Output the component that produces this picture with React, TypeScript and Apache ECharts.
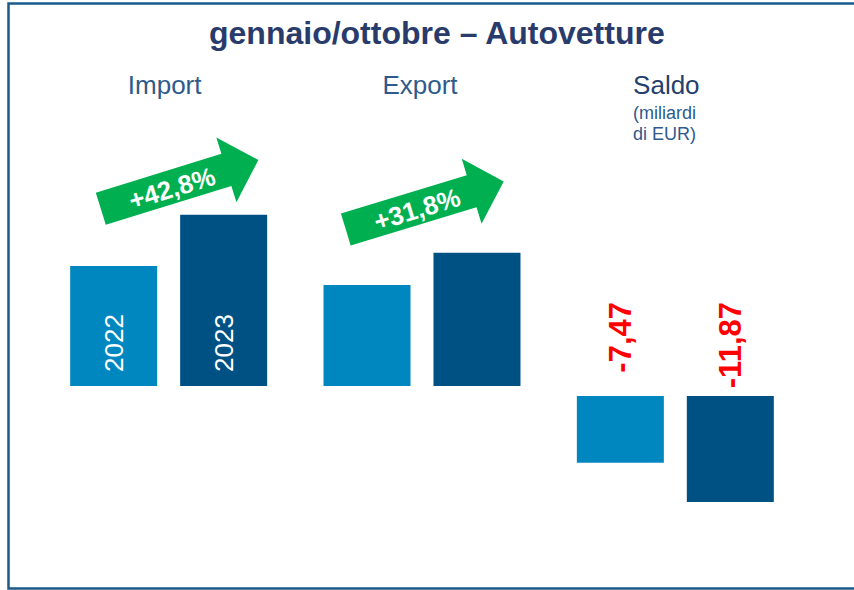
import React, { useEffect, useRef } from "react";
import * as echarts from "echarts";

// ---- data ----
const chartTitle = "gennaio/ottobre – Autovetture";
const categories = ["Import", "Export", "Saldo"];
const years = ["2022", "2023"];
// bar heights for Import / Export (same scale as Saldo)
const importExport2022 = [13.44, 11.31];
const importExport2023 = [19.19, 14.91];
// Saldo (miliardi di EUR)
const saldoValues = [-7.47, -11.87];
const growthLabels = ["+42,8%", "+31,8%"];
const unitLines = ["(miliardi", "di EUR)"];

const FONT = "'Liberation Sans', Arial, sans-serif";
const C2022 = "#0087C0";
const C2023 = "#005183";
const GREEN = "#00B050";

function arrow(x: number, y: number, deg: number, label: string) {
  const pts = [
    [0, -16.8],
    [131.5, -16.8],
    [131.5, -34],
    [165, 0],
    [131.5, 34],
    [131.5, 16.8],
    [0, 16.8],
  ];
  return {
    type: "group",
    x,
    y,
    rotation: (deg * Math.PI) / 180,
    silent: true,
    children: [
      { type: "polygon", shape: { points: pts }, style: { fill: GREEN } },
      {
        type: "text",
        x: 74,
        y: 1.5,
        style: {
          text: label,
          fill: "#ffffff",
          font: `bold 26px ${FONT}`,
          align: "center",
          verticalAlign: "middle",
          textAlign: "center",
          textVerticalAlign: "middle",
        },
      },
    ],
  };
}

export default function App() {
  const ref = useRef<HTMLDivElement>(null);

  useEffect(() => {
    if (!ref.current) return;
    const chart = echarts.init(ref.current, null, { renderer: "svg" });
    const pads = [8, 4, 18];
    const labelColors = ["#2E5A8C", "#2E5A8C", "#223F6E"];

    const yearLabel = {
      show: false,
      position: "insideBottom",
      distance: 14,
      rotate: 90,
      align: "left",
      verticalAlign: "middle",
      color: "#ffffff",
      fontSize: 26,
      fontFamily: FONT,
      formatter: "{a}",
    };
    const saldoLabel = {
      show: true,
      position: "top",
      distance: 94,
      rotate: 90,
      align: "right",
      verticalAlign: "middle",
      color: "#FF0000",
      fontSize: 31,
      fontWeight: "bold",
      fontFamily: FONT,
      formatter: (p: any) => Number(p.value).toFixed(2).replace(".", ","),
    };

    const option: any = {
      animation: false,
      backgroundColor: "#ffffff",
      title: {
        text: chartTitle,
        left: 204,
        top: 12,
        textStyle: {
          fontSize: 32,
          fontWeight: "bold",
          color: "#293B6B",
          fontFamily: FONT,
        },
      },
      grid: [
        { left: 42, width: 760, top: 207.4, height: 178.6 },
        { left: 42, width: 760, top: 396, height: 133.95 },
      ],
      xAxis: [
        {
          type: "category",
          gridIndex: 0,
          position: "top",
          data: categories.map((c, i) => ({
            value: c,
            textStyle: { padding: [0, pads[i], 0, 0], color: labelColors[i] },
          })),
          axisLine: { show: false },
          axisTick: { show: false },
          splitLine: { show: false },
          axisLabel: {
            show: true,
            interval: 0,
            margin: 109,
            fontSize: 26,
            fontFamily: FONT,
          },
        },
        {
          type: "category",
          gridIndex: 1,
          data: categories,
          show: false,
        },
      ],
      yAxis: [
        { type: "value", gridIndex: 0, min: 0, max: 20, show: false },
        { type: "value", gridIndex: 1, min: -15, max: 0, show: false },
      ],
      series: [
        {
          name: years[0],
          type: "bar",
          xAxisIndex: 0,
          yAxisIndex: 0,
          barWidth: 87,
          barGap: "26.4%",
          itemStyle: { color: C2022 },
          label: yearLabel,
          data: [
            { value: importExport2022[0], label: { show: true } },
            importExport2022[1],
            "-",
          ],
        },
        {
          name: years[1],
          type: "bar",
          xAxisIndex: 0,
          yAxisIndex: 0,
          barWidth: 87,
          barGap: "26.4%",
          itemStyle: { color: C2023 },
          label: yearLabel,
          data: [
            { value: importExport2023[0], label: { show: true } },
            importExport2023[1],
            "-",
          ],
        },
        {
          name: "Saldo " + years[0],
          type: "bar",
          xAxisIndex: 1,
          yAxisIndex: 1,
          barWidth: 87,
          barGap: "26.4%",
          itemStyle: { color: C2022 },
          label: saldoLabel,
          data: ["-", "-", saldoValues[0]],
        },
        {
          name: "Saldo " + years[1],
          type: "bar",
          xAxisIndex: 1,
          yAxisIndex: 1,
          barWidth: 87,
          barGap: "26.4%",
          itemStyle: { color: C2023 },
          label: saldoLabel,
          data: ["-", "-", saldoValues[1]],
        },
      ],
      graphic: [
        {
          type: "rect",
          silent: true,
          z: 100,
          shape: { x: 8.5, y: 3.5, width: 900, height: 585 },
          style: { fill: "none", stroke: "#1A5A8C", lineWidth: 2.5 },
        },
        ...unitLines.map((t, i) => ({
          type: "text",
          x: 633,
          y: 113 + i * 21,
          silent: true,
          style: {
            text: t,
            fill: "#2E5A8C",
            font: `18px ${FONT}`,
            align: "left",
            verticalAlign: "middle",
            textAlign: "left",
            textVerticalAlign: "middle",
          },
        })),
        arrow(100.8, 208.8, 17.2, growthLabels[0]),
        arrow(345.8, 229.5, 16.9, growthLabels[1]),
      ],
    };

    chart.setOption(option);
    return () => chart.dispose();
  }, []);

  return (
    <div
      ref={ref}
      style={{ position: "absolute", left: 0, top: 0, width: 854, height: 590 }}
    />
  );
}
